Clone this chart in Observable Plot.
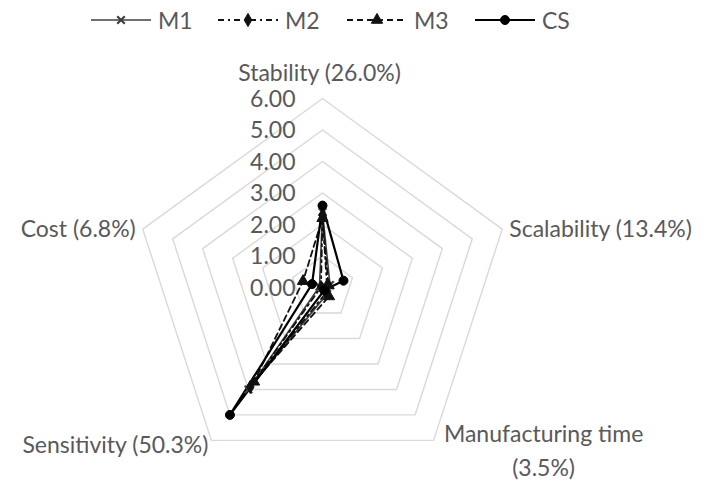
<!DOCTYPE html>
<html><head><meta charset="utf-8">
<script src="https://cdn.jsdelivr.net/npm/d3@7"></script>
<script src="https://cdn.jsdelivr.net/npm/@observablehq/plot@0.6"></script>
<style>
body{margin:0;background:#fff;font-family:Lato,"Open Sans",sans-serif;}
#legend{height:40px;position:relative;width:709px;}
#legend .item{position:absolute;top:6px;display:flex;align-items:center;font-size:23px;color:#595959;}
#legend svg{display:block;margin-right:6px;}
</style></head><body>
<div id="legend"></div>
<div id="chart"></div>
<script>
// ---- data ----
const axisLabels = ["Stability (26.0%)", "Scalability (13.4%)", "Manufacturing time\n(3.5%)", "Sensitivity (50.3%)", "Cost (6.8%)"];
const seriesNames = ["M1", "M2", "M3", "CS"];
const M1 = [2.4, 0.25, 0.25, 4.0, 0.10];
const M2 = [2.3, 0.15, 0.20, 3.9, 0.05];
const M3 = [2.2, 0.20, 0.35, 3.7, 0.65];
const CS = [2.6, 0.70, 0.10, 5.0, 0.35];
const tickValues = [0, 1, 2, 3, 4, 5, 6];
const tickLabels = ["0.00", "1.00", "2.00", "3.00", "4.00", "5.00", "6.00"];

// ---- styles ----
const styles = {
  M1: {stroke: "#404040", dash: null, width: 1.6, symbol: "times", fill: "none", r: 3.5, sw: 2.2},
  M2: {stroke: "#111", dash: "6,4,2,4", width: 1.8, symbol: "diamond", fill: "#111", r: 4, sw: 1},
  M3: {stroke: "#111", dash: "6,4", width: 1.8, symbol: "triangle", fill: "#111", r: 4.2, sw: 1},
  CS: {stroke: "#000", dash: null, width: 2.2, symbol: "circle", fill: "#000", r: 4.5, sw: 1}
};
const values = {M1, M2, M3, CS};
const nA = axisLabels.length;
const ang = i => i * 2 * Math.PI / nA;
const px = (i, r) => r * Math.sin(ang(i));
const py = (i, r) => r * Math.cos(ang(i));

const rows = [];
for (const s of seriesNames) values[s].forEach((v, i) => rows.push({s, i, v, x: px(i, v), y: py(i, v)}));
const ring = s => { const r = rows.filter(d => d.s === s); return [...r, r[0]]; };

const grid = [];
for (const t of tickValues) for (let i = 0; i <= nA; i++) grid.push({t, x: px(i % nA, t), y: py(i % nA, t)});

const U = 31.5, W = 709, H = 445, cx = 322, cy = 247;
const FS = 23;
const labelPos = [
  {dx: -3, dy: -28, anchor: "middle"},
  {dx: 7, dy: -3, anchor: "start"},
  {dx: 110, dy: 8, anchor: "middle"},
  {dx: -3, dy: 2, anchor: "end"},
  {dx: -7, dy: -3, anchor: "end"}
];
const labels = axisLabels.map((t, i) => ({t, i, x: px(i, 6), y: py(i, 6)}));
const ticksData = tickValues.map((t, k) => ({t, label: tickLabels[k], x: 0, y: t}));

const marks = [
  Plot.line(grid, {x: "x", y: "y", z: "t", stroke: "#d9d9d9", strokeWidth: 1.4}),
  Plot.text(ticksData, {x: "x", y: "y", text: "label", textAnchor: "end", dx: -27, dy: 1, fontSize: FS, fill: "#595959"}),
  ...labels.map(l => Plot.text([l], {x: "x", y: "y", text: "t", textAnchor: labelPos[l.i].anchor, dx: labelPos[l.i].dx, dy: labelPos[l.i].dy, fontSize: FS, fill: "#595959", lineHeight: 1.45}))
];
for (const s of seriesNames) {
  const st = styles[s];
  marks.push(Plot.line(ring(s), {x: "x", y: "y", stroke: st.stroke, strokeWidth: st.width, strokeDasharray: st.dash}));
}
for (const s of seriesNames) {
  const st = styles[s];
  marks.push(Plot.dot(rows.filter(d => d.s === s), {x: "x", y: "y", symbol: () => st.symbol, r: st.r, fill: st.fill, stroke: st.stroke, strokeWidth: st.sw}));
}

const chart = Plot.plot({
  width: W, height: H, margin: 0,
  style: {fontFamily: "Lato, 'Open Sans', sans-serif", background: "#fff"},
  x: {domain: [-cx / U, (W - cx) / U], axis: null},
  y: {domain: [-(H - cy) / U, cy / U], axis: null},
  symbol: {type: "identity"},
  marks
});
document.getElementById("chart").appendChild(chart);

// ---- legend ----
const legendX = [90, 217, 346, 474];
const leg = document.getElementById("legend");
seriesNames.forEach((s, k) => {
  const st = styles[s];
  const div = document.createElement("div");
  div.className = "item";
  div.style.left = legendX[k] + "px";
  const sym = {times: d3.symbolTimes, diamond: d3.symbolDiamond, triangle: d3.symbolTriangle, circle: d3.symbolCircle}[st.symbol];
  const path = d3.symbol(sym, Math.PI * st.r * st.r)();
  div.innerHTML = `<svg width="62" height="28"><line x1="1" x2="61" y1="14" y2="14" stroke="${st.stroke}" stroke-width="${st.width}" ${st.dash ? `stroke-dasharray="${st.dash}"` : ""}/><path transform="translate(31,14)" d="${path}" fill="${st.fill}" stroke="${st.stroke}" stroke-width="${st.sw}"/></svg><span>${s}</span>`;
  leg.appendChild(div);
});
</script>
</body></html>
